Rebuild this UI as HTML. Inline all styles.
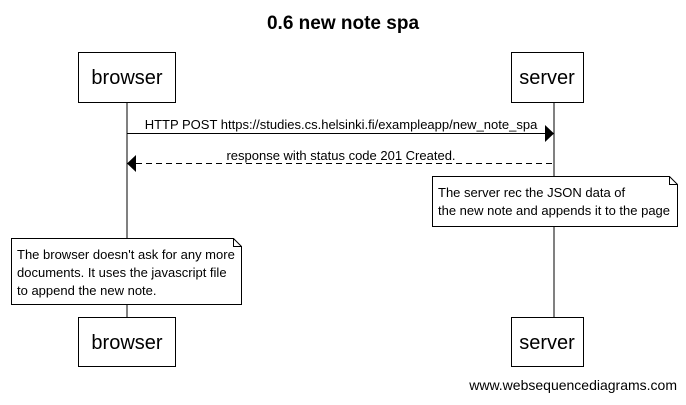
<!DOCTYPE html>
<html><head><style>body{margin:0;background:#fff}</style></head><body>
<svg width="686" height="400" xmlns="http://www.w3.org/2000/svg" font-family="Liberation Sans, sans-serif">
<rect width="686" height="400" fill="#fff"/>
<text x="343" y="29" font-size="19" font-weight="bold" text-anchor="middle">0.6 new note spa</text>
<line x1="127" y1="102" x2="127" y2="317" stroke="#000"/>
<line x1="554" y1="102" x2="554" y2="317" stroke="#000"/>
<rect x="78.5" y="52.5" width="97" height="50" fill="#fff" stroke="#000"/>
<text x="127" y="84" font-size="20" text-anchor="middle">browser</text>
<rect x="511.5" y="52.5" width="72" height="50" fill="#fff" stroke="#000"/>
<text x="547" y="84" font-size="20" text-anchor="middle">server</text>
<rect x="78.5" y="317.5" width="97" height="49" fill="#fff" stroke="#000"/>
<text x="127" y="349" font-size="20" text-anchor="middle">browser</text>
<rect x="511.5" y="317.5" width="72" height="49" fill="#fff" stroke="#000"/>
<text x="547" y="349" font-size="20" text-anchor="middle">server</text>
<line x1="127" y1="133.5" x2="545" y2="133.5" stroke="#000"/>
<polygon points="545,125 554,133.5 545,142" fill="#000"/>
<text x="341" y="129" font-size="13" text-anchor="middle">HTTP POST https://studies.cs.helsinki.fi/exampleapp/new_note_spa</text>
<line x1="136" y1="163.5" x2="554" y2="163.5" stroke="#000" stroke-dasharray="6,4"/>
<polygon points="136,155 127,163.5 136,172" fill="#000"/>
<text x="341" y="160" font-size="13" text-anchor="middle">response with status code 201 Created.</text>
<polygon points="432.5,176.5 669.5,176.5 677.5,184.5 677.5,226.5 432.5,226.5" fill="#fff" stroke="#000"/>
<polyline points="669.5,176.5 669.5,184.5 677.5,184.5" fill="none" stroke="#000"/>
<text x="438" y="197" font-size="13">The server rec the JSON data of</text>
<text x="438" y="215" font-size="13">the new note and appends it to the page</text>
<polygon points="11.5,238.5 233.5,238.5 241.5,246.5 241.5,304.5 11.5,304.5" fill="#fff" stroke="#000"/>
<polyline points="233.5,238.5 233.5,246.5 241.5,246.5" fill="none" stroke="#000"/>
<text x="17" y="259" font-size="13">The browser doesn't ask for any more</text>
<text x="17" y="277" font-size="13">documents. It uses the javascript file</text>
<text x="17" y="295" font-size="13">to append the new note.</text>
<text x="677" y="390" font-size="14" text-anchor="end">www.websequencediagrams.com</text>
</svg>
</body></html>
